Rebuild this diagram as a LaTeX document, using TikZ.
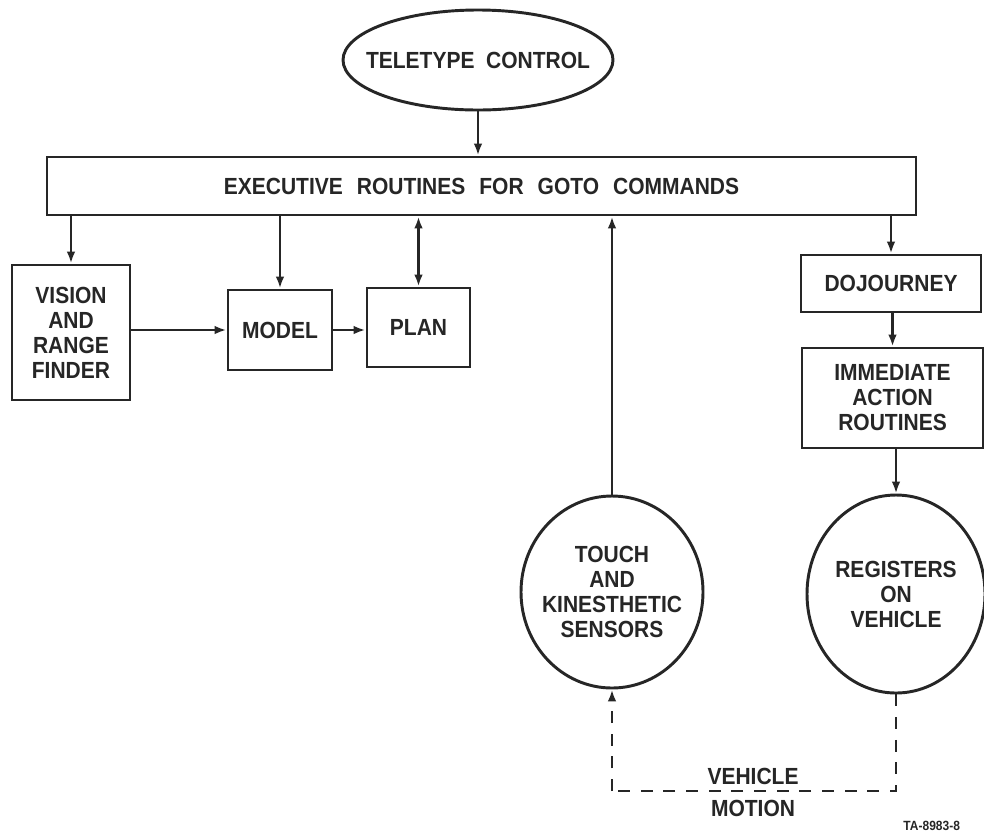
\documentclass[tikz,border=0pt]{standalone}
\usepackage{fontspec}
\setmainfont{Liberation Sans}[FakeStretch=0.9]
\usetikzlibrary{shapes.geometric,arrows.meta}
\definecolor{ink}{HTML}{262626}
\begin{document}
\begin{tikzpicture}[x=0.75pt,y=-0.75pt,
  line width=2.2pt, draw=ink,
  lbl/.style={font=\fontsize{17.5}{18.75}\selectfont\bfseries, text=ink, align=center, inner sep=0pt},
  boxnode/.style={lbl, draw=ink, rectangle, line width=2.2pt},
  ovalnode/.style={draw=ink, ellipse, inner sep=0pt, line width=2.2pt},
  arr/.style={-{Latex[length=9pt,width=6.5pt]}, draw=ink},
  dbl/.style={{Latex[length=9pt,width=6.5pt]}-{Latex[length=9pt,width=6.5pt]}, draw=ink},
  dsh/.style={draw=ink, line width=2.2pt, dash pattern=on 9pt off 8pt}]
\useasboundingbox (0,0) rectangle (984,833);
\fill[white] (0,0) rectangle (984,833);

\node[ovalnode, minimum width={270*0.75pt}, minimum height={100*0.75pt},
  label={[lbl]center:TELETYPE\hspace{0.5em}CONTROL}] (tele) at (478,60) {};
\node[boxnode, minimum width={869*0.75pt}, minimum height={58*0.75pt}] (exec) at (481.5,186)
  {EXECUTIVE\hspace{0.6em}ROUTINES\hspace{0.6em}FOR\hspace{0.6em}GOTO\hspace{0.6em}COMMANDS};

\node[boxnode, minimum width={118*0.75pt}, minimum height={135*0.75pt}] (vision) at (71,332.5) {VISION\\AND\\RANGE\\FINDER};
\node[boxnode, minimum width={104*0.75pt}, minimum height={80*0.75pt}] (model) at (280,330) {MODEL};
\node[boxnode, minimum width={103*0.75pt}, minimum height={79*0.75pt}] (plan) at (418.5,327.5) {PLAN};

\node[boxnode, minimum width={180*0.75pt}, minimum height={57*0.75pt}] (dojo) at (891,283.5) {DOJOURNEY};
\node[boxnode, minimum width={181*0.75pt}, minimum height={100*0.75pt}] (imm) at (892.5,398) {IMMEDIATE\\ACTION\\ROUTINES};

\node[ovalnode, minimum width={182*0.75pt}, minimum height={192*0.75pt},
  label={[lbl]center:TOUCH\\AND\\KINESTHETIC\\SENSORS}] (touch) at (612,592) {};
\node[ovalnode, minimum width={178*0.75pt}, minimum height={198*0.75pt},
  label={[lbl]center:REGISTERS\\ON\\VEHICLE}] (reg) at (896,594) {};

\node[lbl] (vm1) at (753,776) {VEHICLE};
\node[lbl] (vm2) at (753,808) {MOTION};
\node[lbl, anchor=west, font=\fontsize{10}{11}\selectfont\bfseries] (ta) at (902,826) {TA-8983-8};

\coordinate (m1) at (612,791);
\coordinate (m2) at (896,791);

% connectors
\draw[arr] (tele.south) -- (tele.south |- exec.north);
\draw[arr] (vision.north |- exec.south) -- (vision.north);
\draw[arr] (model.north |- exec.south) -- (model.north);
\draw[dbl] (plan.north |- exec.south) -- (plan.north);
\draw[arr] (touch.north) -- (touch.north |- exec.south);
\draw[arr] (dojo.north |- exec.south) -- (dojo.north);
\draw[arr] (dojo.south -| imm.north) -- (imm.north);
\draw[arr] (imm.south -| reg.north) -- (reg.north);
\draw[arr] (vision.east |- model.west) -- (model.west);
\draw[arr] (model.east) -- (model.east -| plan.west);

\draw[dsh] (reg.south) -- (m2) -- (m1);
\draw[dsh, arr] (m1) -- (touch.south);
\end{tikzpicture}
\end{document}
